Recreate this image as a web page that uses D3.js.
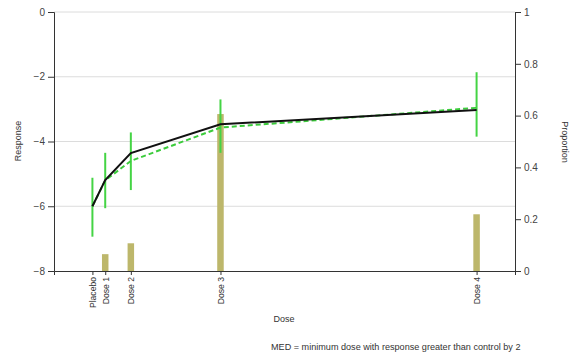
<!DOCTYPE html>
<html>
<head>
<meta charset="utf-8">
<script src="https://cdn.jsdelivr.net/npm/d3@7"></script>
<style>
  body { margin: 0; background: #fff; }
  svg text { font-family: Arial, "Liberation Sans", sans-serif; }
</style>
</head>
<body>
<div id="chart"></div>
<script>
// chart data
var doses = [0, 0.1, 0.3, 1, 3];
var doseLabels = ["Placebo", "Dose 1", "Dose 2", "Dose 3", "Dose 4"];
var fitted = [-6.0, -5.19, -4.36, -3.47, -3.03];
var observed = [-6.0, -5.2, -4.6, -3.57, -2.96];
var errLow = [-6.94, -6.06, -5.50, -4.35, -3.85];
var errHigh = [-5.12, -4.35, -3.72, -2.70, -1.86];
var proportion = [0, 0.065, 0.107, 0.606, 0.219];
var responseTicks = [-8, -6, -4, -2, 0];
var proportionTicks = [0, 0.2, 0.4, 0.6, 0.8, 1];

var svgWidth = 579;
var svgHeight = 356;

var svg = d3.select("#chart").append("svg")
  .attr("width", svgWidth)
  .attr("height", svgHeight);

var xScale = d3.scaleLinear().domain([-0.3, 3.3]).range([54, 515]);
var yScale = d3.scaleLinear().domain([-8, 0]).range([271, 12]);
var pScale = d3.scaleLinear().domain([0, 1]).range([271, 12]);

var rows = doses.map(function(d, i) {
  return { dose: d, label: doseLabels[i], fit: fitted[i], obs: observed[i],
           lo: errLow[i], hi: errHigh[i], prop: proportion[i] };
});

// gridlines
svg.append("g").selectAll("line")
  .data(responseTicks.filter(function(t) { return t > -8; }))
  .enter().append("line")
  .attr("x1", 54).attr("x2", 515)
  .attr("y1", function(d) { return yScale(d); })
  .attr("y2", function(d) { return yScale(d); })
  .attr("stroke", "#dcdcdc")
  .attr("stroke-width", 1);

// proportion bars
svg.append("g").selectAll("rect")
  .data(rows.filter(function(d) { return d.prop > 0; }))
  .enter().append("rect")
  .attr("x", function(d) { return xScale(d.dose) - 3.25; })
  .attr("width", 6.5)
  .attr("y", function(d) { return pScale(d.prop); })
  .attr("height", function(d) { return pScale(0) - pScale(d.prop); })
  .attr("fill", "#bdb76b");

// axes
function styleAxis(g) {
  g.selectAll("path").attr("stroke", "#333");
  g.selectAll("line").attr("stroke", "#333");
  g.selectAll("text").attr("fill", "#444").style("font-size", "10px");
}

svg.append("g")
  .attr("transform", "translate(54,0)")
  .call(d3.axisLeft(yScale).tickValues(responseTicks).tickSizeOuter(0).tickSize(6))
  .call(styleAxis);

svg.append("g")
  .attr("transform", "translate(515,0)")
  .call(d3.axisRight(pScale).tickValues(proportionTicks).tickSizeOuter(0).tickSize(6)
    .tickFormat(d3.format("")))
  .call(styleAxis);

var xAxis = svg.append("g")
  .attr("transform", "translate(0,271)")
  .call(d3.axisBottom(xScale).tickValues(doses).tickSizeOuter(0).tickSize(4)
    .tickFormat(function(d, i) { return doseLabels[i]; }))
  .call(styleAxis);

xAxis.selectAll("text")
  .attr("transform", "rotate(-90)")
  .attr("text-anchor", "end")
  .attr("x", -6)
  .attr("y", 0)
  .attr("dy", "0.35em")
  .attr("fill", "#333")
  .style("font-size", "8.6px");

// error bars
svg.append("g").selectAll("line")
  .data(rows)
  .enter().append("line")
  .attr("x1", function(d) { return xScale(d.dose); })
  .attr("x2", function(d) { return xScale(d.dose); })
  .attr("y1", function(d) { return yScale(d.lo); })
  .attr("y2", function(d) { return yScale(d.hi); })
  .attr("stroke", "#44d444")
  .attr("stroke-width", 2);

// lines
var fitLine = d3.line()
  .x(function(d) { return xScale(d.dose); })
  .y(function(d) { return yScale(d.fit); });

var obsLine = d3.line()
  .x(function(d) { return xScale(d.dose); })
  .y(function(d) { return yScale(d.obs); });

svg.append("path")
  .datum(rows)
  .attr("d", obsLine)
  .attr("fill", "none")
  .attr("stroke", "#3ccc3c")
  .attr("stroke-width", 2)
  .attr("stroke-dasharray", "5,3");

svg.append("path")
  .datum(rows)
  .attr("d", fitLine)
  .attr("fill", "none")
  .attr("stroke", "#111")
  .attr("stroke-width", 2);

// axis labels
svg.append("text")
  .attr("transform", "translate(21,141) rotate(-90)")
  .attr("text-anchor", "middle")
  .style("font-size", "9px")
  .attr("fill", "#333")
  .text("Response");

svg.append("text")
  .attr("transform", "translate(562,142) rotate(90)")
  .attr("text-anchor", "middle")
  .style("font-size", "9px")
  .attr("fill", "#333")
  .text("Proportion");

svg.append("text")
  .attr("x", 284)
  .attr("y", 322)
  .attr("text-anchor", "middle")
  .style("font-size", "9px")
  .attr("fill", "#333")
  .text("Dose");

svg.append("text")
  .attr("x", 271)
  .attr("y", 350)
  .style("font-size", "9.1px")
  .attr("fill", "#333")
  .text("MED = minimum dose with response greater than control by 2");
</script>
</body>
</html>
